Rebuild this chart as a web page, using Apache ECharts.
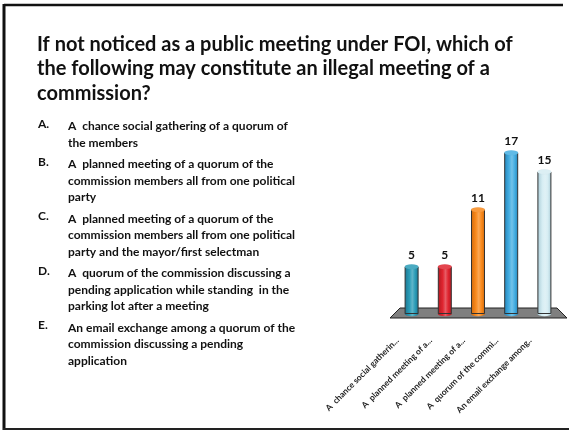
<!DOCTYPE html>
<html>
<head>
<meta charset="utf-8">
<script src="https://cdn.jsdelivr.net/npm/echarts@6/dist/echarts.min.js"></script>
<style>
html,body{margin:0;padding:0;background:#fff;}
#main{width:569px;height:431px;}
</style>
</head>
<body>
<div id="main"></div>
<script>
// chart data
var categories = ['A  chance social gatherin...', 'A  planned meeting of a...', 'A  planned meeting of a...', 'A  quorum of the commi...', 'An email exchange among..'];
var votes = [5, 5, 11, 17, 15];
var barColors = ['#2b9db8', '#e0252f', '#f98a1d', '#45aee2', '#d6edf3'];
var barShades = ['#1b7590', '#b01820', '#d0680a', '#2285bb', '#a9cbd6'];

var titleLines = [
    'If not noticed as a public meeting under FOI, which of',
    'the following may constitute an illegal meeting of a',
    'commission?'
];
var answerKeys = ['A.', 'B.', 'C.', 'D.', 'E.'];
var answerTexts = [
    ['A  chance social gathering of a quorum of', 'the members'],
    ['A  planned meeting of a quorum of the', 'commission members all from one political', 'party'],
    ['A  planned meeting of a quorum of the', 'commission members all from one political', 'party and the mayor/first selectman'],
    ['A  quorum of the commission discussing a', 'pending application while standing  in the', 'parking lot after a meeting'],
    ['An email exchange among a quorum of the', 'commission discussing a pending', 'application']
];

var font = 'Lato, "Open Sans", sans-serif';

var chart = echarts.init(document.getElementById('main'));

function cylinder(i){
    return new echarts.graphic.LinearGradient(0, 0, 1, 0, [
        {offset: 0, color: barShades[i]},
        {offset: 0.35, color: barColors[i]},
        {offset: 0.55, color: echarts.color.lift(barColors[i], 0.25)},
        {offset: 0.75, color: barColors[i]},
        {offset: 1, color: barShades[i]}
    ]);
}

var barData = votes.map(function(v, i){
    return {value: v, itemStyle: {color: cylinder(i)}};
});
var capData = votes.map(function(v, i){
    return {value: v, itemStyle: {color: echarts.color.lift(barColors[i], 0.15)}};
});

// slide texts
var graphics = [];
graphics.push({
    type: 'text', left: 37, top: 32, z: 10,
    style: {text: titleLines.join('\n'), font: 'bold 20px ' + font, fill: '#111', lineHeight: 24.5}
});
var y = 118;
answerKeys.forEach(function(k, i){
    graphics.push({
        type: 'text', left: 38, top: y, z: 10,
        style: {text: k, font: 'bold 12px ' + font, fill: '#111'}
    });
    graphics.push({
        type: 'text', left: 68, top: y, z: 10,
        style: {text: answerTexts[i].join('\n'), font: 'bold 12px ' + font, fill: '#111', lineHeight: 16.5}
    });
    y += answerTexts[i].length * 16.5 + 5;
});
// slide frame
graphics.push({type: 'line', shape: {x1: 4, y1: 5, x2: 563, y2: 5}, style: {stroke: '#111', lineWidth: 2.5}});
graphics.push({type: 'line', shape: {x1: 4, y1: 4, x2: 4, y2: 430}, style: {stroke: '#111', lineWidth: 3}});
graphics.push({type: 'line', shape: {x1: 3, y1: 429, x2: 569, y2: 429}, style: {stroke: '#222', lineWidth: 2}});
// 3d floor
graphics.push({
    type: 'polygon', z: 0,
    shape: {points: [[390, 318], [400, 308], [557, 308], [567, 318]]},
    style: {fill: '#7f7f7f', stroke: '#222', lineWidth: 1}
});

chart.setOption({
    animation: false,
    graphic: graphics,
    grid: {left: 395, width: 166, top: 124, height: 190},
    xAxis: {
        type: 'category',
        data: categories,
        axisLine: {show: false},
        axisTick: {show: false},
        axisLabel: {
            interval: 0,
            rotate: 45,
            margin: 11,
            padding: [0, 20, 0, 0],
            fontFamily: font,
            fontSize: 8.5,
            fontWeight: 'bold',
            color: '#222'
        }
    },
    yAxis: {
        type: 'value',
        min: 0,
        max: 20,
        show: false,
        splitLine: {show: false}
    },
    series: [
        {
            name: 'votes',
            type: 'bar',
            barWidth: 14,
            z: 3,
            data: barData,
            itemStyle: {borderColor: '#333', borderWidth: 1},
            label: {
                show: true,
                position: 'top',
                distance: 5,
                fontFamily: font,
                fontSize: 12,
                fontWeight: 'bold',
                color: '#111'
            }
        },
        {
            name: 'cap',
            type: 'pictorialBar',
            symbol: 'circle',
            symbolSize: [14, 5],
            symbolPosition: 'end',
            symbolOffset: [0, '-50%'],
            barGap: '-100%',
            z: 4,
            data: capData,
            itemStyle: {borderColor: '#333', borderWidth: 1}
        },
        {
            name: 'base',
            type: 'pictorialBar',
            symbol: 'circle',
            symbolSize: [14, 5],
            symbolPosition: 'start',
            symbolOffset: [0, '50%'],
            barGap: '-100%',
            z: 2,
            data: barData,
            itemStyle: {borderColor: '#333', borderWidth: 1}
        }
    ]
});
</script>
</body>
</html>
